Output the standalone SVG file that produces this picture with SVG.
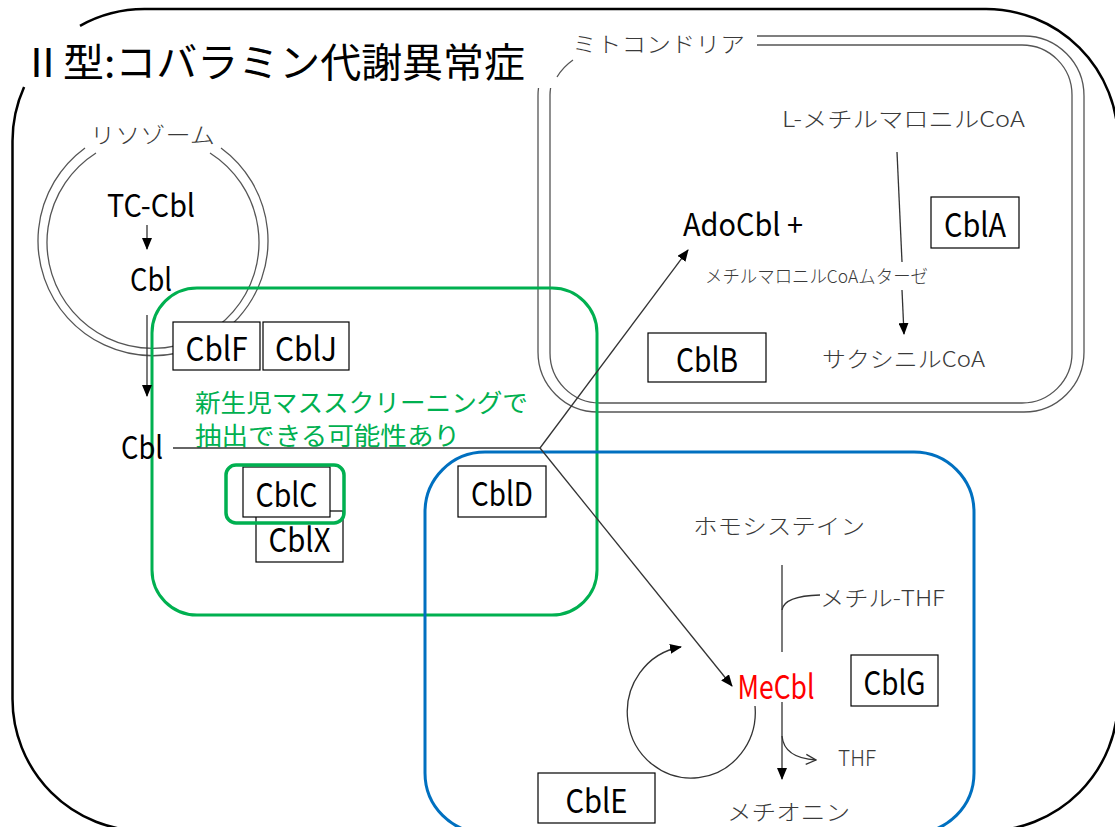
<svg xmlns="http://www.w3.org/2000/svg" width="1115" height="827" viewBox="0 0 1115 827">
<defs>
<style>
text{font-family:"Noto Sans CJK JP","Noto Sans",sans-serif;dominant-baseline:central}
.title{font-size:40px;font-weight:normal;fill:#000}
.lab{font-size:22px;fill:#3a3a3a;font-weight:300}
.cb{font-size:33px;fill:#000}
.green{font-size:25px;fill:#00B050}
.box{fill:#fff;stroke:#000;stroke-width:1.2}
.mem{fill:none;stroke:#555;stroke-width:1.3}
.ln{fill:none;stroke:#333;stroke-width:1.3}
</style>
<marker id="ah" markerWidth="12" markerHeight="10" refX="11" refY="5" orient="auto" markerUnits="userSpaceOnUse"><path d="M0,0 L12,5 L0,10 z" fill="#000"/></marker>
<marker id="ao" markerWidth="12" markerHeight="12" refX="11" refY="6" orient="auto" markerUnits="userSpaceOnUse"><path d="M1,1 L11,6 L1,11" fill="none" stroke="#333" stroke-width="1.3"/></marker>
</defs>
<rect width="1115" height="827" fill="#fff"/>

<g id="cell">
<path d="M80,25.8 A132,132 0 0 1 144.5,9 H986 A132,132 0 0 1 1118,141 V699 A132,132 0 0 1 986,831 H144.5 A132,132 0 0 1 12.5,699 V141 A132,132 0 0 1 24.1,87" fill="none" stroke="#000" stroke-width="2.5"/>
<text class="title" x="22" y="60" textLength="503" lengthAdjust="spacingAndGlyphs">Ⅱ型:コバラミン代謝異常症</text>
</g>

<g id="mitochondria">
<path class="mem" d="M757,36 H1024 A60,60 0 0 1 1084,96 V352 A60,60 0 0 1 1024,412 H598 A60,60 0 0 1 538,352 V96 A60,60 0 0 1 538.5,88"/>
<path class="mem" d="M757,45 H1022 A50,50 0 0 1 1072,95 V353 A50,50 0 0 1 1022,403 H600 A50,50 0 0 1 550,353 V95 A50,50 0 0 1 550.6,88"/>
<path class="mem" d="M557,77 Q563,67 573,60"/>
<text class="lab" x="572" y="42" textLength="173" lengthAdjust="spacingAndGlyphs">ミトコンドリア</text>
</g>

<g id="lysosome">
<path class="mem" d="M221,148 A115,115 0 1 1 85,148"/>
<path class="mem" d="M210,153 A106,106 0 1 1 96,153"/>
<text class="lab" x="90" y="133" textLength="125" lengthAdjust="spacingAndGlyphs">リソゾーム</text>
<text class="cb" x="151" y="203" text-anchor="middle" style="font-size:31px" textLength="88" lengthAdjust="spacingAndGlyphs">TC-Cbl</text>
<text class="cb" x="151" y="277" text-anchor="middle" style="font-size:31px" textLength="42" lengthAdjust="spacingAndGlyphs">Cbl</text>
</g>

<g id="screening">
<rect x="152" y="288" width="445" height="327" rx="45" fill="none" stroke="#00B050" stroke-width="3"/>
<text class="green" x="195" y="401" textLength="333" lengthAdjust="spacingAndGlyphs">新生児マススクリーニングで</text>
<text class="green" x="195" y="434" textLength="265" lengthAdjust="spacingAndGlyphs">抽出できる可能性あり</text>
</g>

<g id="cytosol-methyl">
<rect x="425" y="452" width="549" height="381" rx="60" fill="none" stroke="#0070C0" stroke-width="3"/>
</g>

<g id="connectors">
<path class="ln" d="M147,225 V249" marker-end="url(#ah)"/>
<path class="ln" d="M147,315 V396" marker-end="url(#ah)"/>
<path class="ln" d="M173,448 H540"/>
<path class="ln" d="M540,448 L688,250" marker-end="url(#ah)"/>
<path class="ln" d="M540,448 L732,686" marker-end="url(#ah)"/>
<path class="ln" d="M897,152 L902,262"/>
<path class="ln" d="M902,290 L904,334" marker-end="url(#ah)"/>
<path class="ln" d="M782,565 V652"/>
<path class="ln" d="M782,702 V779" marker-end="url(#ah)"/>
<path class="ln" d="M782,610 Q784,596 820,595"/>
<path class="ln" d="M782,736 Q784,758 816,760" marker-end="url(#ao)"/>
<path class="ln" d="M755,706 A64,66 0 1 1 681,647" marker-end="url(#ah)"/>
</g>

<g id="labels">
<text class="cb" x="142" y="445" text-anchor="middle" style="font-size:31px" textLength="42" lengthAdjust="spacingAndGlyphs">Cbl</text>
<text class="lab" x="782" y="117" textLength="243" lengthAdjust="spacingAndGlyphs">L-メチルマロニルCoA</text>
<text class="cb" x="683" y="222" style="font-size:31px" textLength="120" lengthAdjust="spacingAndGlyphs">AdoCbl +</text>
<text class="lab" x="705" y="275" style="font-size:18px" textLength="223" lengthAdjust="spacingAndGlyphs">メチルマロニルCoAムターゼ</text>
<text class="lab" x="822" y="357" textLength="163" lengthAdjust="spacingAndGlyphs">サクシニルCoA</text>
<text class="lab" x="693" y="524" textLength="172" lengthAdjust="spacingAndGlyphs">ホモシステイン</text>
<text class="lab" x="820" y="596" textLength="125" lengthAdjust="spacingAndGlyphs">メチル-THF</text>
<text class="cb" x="776" y="685" text-anchor="middle" style="fill:#FF0000;font-size:33px" textLength="77" lengthAdjust="spacingAndGlyphs">MeCbl</text>
<text class="lab" x="838" y="756" textLength="38" lengthAdjust="spacingAndGlyphs">THF</text>
<text class="lab" x="727" y="810" textLength="123" lengthAdjust="spacingAndGlyphs">メチオニン</text>
</g>

<g id="cblF"><rect class="box" x="173" y="322" width="87" height="48"/><text class="cb" x="216.5" y="347" text-anchor="middle" textLength="62" lengthAdjust="spacingAndGlyphs">CblF</text></g>
<g id="cblJ"><rect class="box" x="263" y="322" width="86" height="48"/><text class="cb" x="306" y="347" text-anchor="middle" textLength="62" lengthAdjust="spacingAndGlyphs">CblJ</text></g>
<g id="cblX"><rect class="box" x="256" y="511" width="87" height="51"/><text class="cb" x="299.5" y="538" text-anchor="middle" textLength="62" lengthAdjust="spacingAndGlyphs">CblX</text></g>
<g id="cblC"><rect class="box" x="243" y="467" width="87" height="50"/><text class="cb" x="286.5" y="493" text-anchor="middle" textLength="62" lengthAdjust="spacingAndGlyphs">CblC</text>
<rect x="226" y="465" width="118" height="58" rx="10" fill="none" stroke="#00B050" stroke-width="3.5"/></g>
<g id="cblD"><rect class="box" x="458" y="466" width="88" height="51"/><text class="cb" x="502" y="492" text-anchor="middle" textLength="62" lengthAdjust="spacingAndGlyphs">CblD</text></g>
<g id="cblA"><rect class="box" x="931" y="197" width="88" height="51"/><text class="cb" x="975" y="223" text-anchor="middle" textLength="62" lengthAdjust="spacingAndGlyphs">CblA</text></g>
<g id="cblB"><rect class="box" x="648" y="333" width="118" height="49"/><text class="cb" x="707" y="358" text-anchor="middle" textLength="62" lengthAdjust="spacingAndGlyphs">CblB</text></g>
<g id="cblG"><rect class="box" x="851" y="655" width="87" height="51"/><text class="cb" x="894.5" y="681" text-anchor="middle" textLength="62" lengthAdjust="spacingAndGlyphs">CblG</text></g>
<g id="cblE"><rect class="box" x="538" y="773" width="117" height="50"/><text class="cb" x="596.5" y="799" text-anchor="middle" textLength="62" lengthAdjust="spacingAndGlyphs">CblE</text></g>
</svg>
